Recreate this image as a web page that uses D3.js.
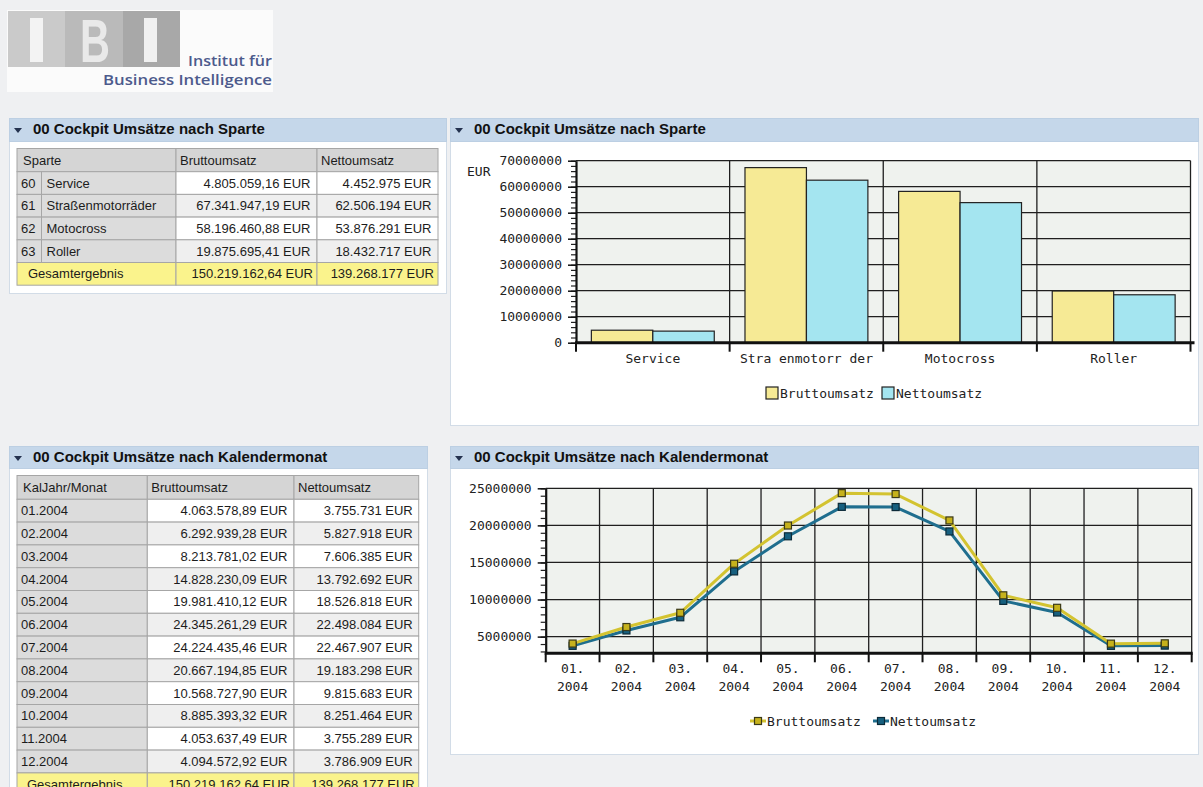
<!DOCTYPE html>
<html><head><meta charset="utf-8">
<script src="https://cdn.jsdelivr.net/npm/d3@7"></script>
<style>
body{margin:0;background:#eff0f2;}
svg{display:block;}
.tbl text{font-family:"Liberation Sans",Arial,sans-serif;font-size:13px;fill:#1c1c1c;}
.chart text{font-family:"DejaVu Sans Mono",monospace;font-size:13px;fill:#222;}
</style>
</head><body>
<svg id="c" width="1203" height="787"></svg>
<script>
// ---------------- DATA ----------------
const spartenCodes = ["60", "61", "62", "63"];
const spartenNames = ["Service", "Straßenmotorräder", "Motocross", "Roller"];
const spartenChartLabels = ["Service", "Stra enmotorr der", "Motocross", "Roller"];
const spartenBrutto = [4805059.16, 67341947.19, 58196460.88, 19875695.41];
const spartenNetto = [4452975, 62506194, 53876291, 18432717];
const totalBrutto = 150219162.64;
const totalNetto = 139268177;

const months = ["01.2004", "02.2004", "03.2004", "04.2004", "05.2004", "06.2004",
                "07.2004", "08.2004", "09.2004", "10.2004", "11.2004", "12.2004"];
const monthBrutto = [4063578.89, 6292939.28, 8213781.02, 14828230.09, 19981410.12, 24345261.29,
                     24224435.46, 20667194.85, 10568727.90, 8885393.32, 4053637.49, 4094572.92];
const monthNetto = [3755731, 5827918, 7606385, 13792692, 18526818, 22498084,
                    22467907, 19183298, 9815683, 8251464, 3755289, 3786909];

const seriesNames = ["Bruttoumsatz", "Nettoumsatz"];
const barTicks = [0, 10000000, 20000000, 30000000, 40000000, 50000000, 60000000, 70000000];
const lineTicks = [5000000, 10000000, 15000000, 20000000, 25000000];
const panelTitles = ["00 Cockpit Umsätze nach Sparte", "00 Cockpit Umsätze nach Kalendermonat"];

// ---------------- SETUP ----------------
const svg = d3.select("#c");
svg.append("rect").attr("width", 1203).attr("height", 787).attr("fill", "#eff0f2");

const loc = d3.formatLocale({decimal: ",", thousands: ".", grouping: [3], currency: ["", ""]});
const f2 = v => loc.format(",.2f")(v) + " EUR";
const f0 = v => loc.format(",.0f")(v) + " EUR";

// ---------------- LOGO ----------------
const logo = svg.append("g");
logo.append("rect").attr("x", 7).attr("y", 10).attr("width", 266).attr("height", 82).attr("fill", "#fbfbfb");
[[8, 65, "#cacaca"], [65, 123, "#bababa"], [123, 180, "#a8a8a8"]].forEach(s => {
  logo.append("rect").attr("x", s[0]).attr("y", 11).attr("width", s[1] - s[0]).attr("height", 56).attr("fill", s[2]);
});
logo.append("rect").attr("x", 30).attr("y", 18).attr("width", 13).attr("height", 44).attr("fill", "#f3f3f3");
logo.append("rect").attr("x", 144).attr("y", 18).attr("width", 13).attr("height", 44).attr("fill", "#f0f0f0");
logo.append("text").attr("x", 80).attr("y", 62).attr("textLength", 30).attr("lengthAdjust", "spacingAndGlyphs")
  .attr("font-family", "Liberation Sans, Arial").attr("font-weight", "bold").attr("font-size", 61)
  .attr("fill", "#e9e9e9").text("B");
logo.append("text").attr("x", 188).attr("y", 66).attr("textLength", 84).attr("lengthAdjust", "spacingAndGlyphs")
  .attr("font-family", "Open Sans, sans-serif").attr("font-weight", 600).attr("font-size", 15)
  .attr("fill", "#4d5a8c").text("Institut für");
logo.append("text").attr("x", 103).attr("y", 85).attr("textLength", 169).attr("lengthAdjust", "spacingAndGlyphs")
  .attr("font-family", "Open Sans, sans-serif").attr("font-weight", 600).attr("font-size", 15)
  .attr("fill", "#4d5a8c").text("Business Intelligence");

// ---------------- PANELS ----------------
function panel(x, y, w, h, hh, title) {
  const g = svg.append("g");
  g.append("rect").attr("x", x + 0.5).attr("y", y + 0.5).attr("width", w).attr("height", h)
    .attr("fill", "#ffffff").attr("stroke", "#d2dce7");
  g.append("rect").attr("x", x + 0.5).attr("y", y + 0.5).attr("width", w).attr("height", hh)
    .attr("fill", "#c5d7ea").attr("stroke", "#bccfe3");
  g.append("path").attr("d", `M${x + 5},${y + 10} L${x + 13},${y + 10} L${x + 9},${y + 15} Z`).attr("fill", "#24324f");
  g.append("text").attr("x", x + 24).attr("y", y + 16).attr("font-family", "Liberation Sans, Arial, sans-serif")
    .attr("font-weight", "bold").attr("font-size", 15).attr("fill", "#111").text(title);
  return g;
}
panel(9, 118, 437, 175, 23, panelTitles[0]);
panel(450, 118, 748, 307, 23, panelTitles[0]);
panel(9, 446, 418, 360, 22, panelTitles[1]);
panel(450, 446, 748, 308, 22, panelTitles[1]);

// ---------------- TABLES ----------------
const C_HEAD = "#d5d5d5", C_KEY = "#dcdcdc", C_W = "#ffffff", C_ALT = "#efefef", C_TOT = "#faf38c";
function drawRow(g, colX, y, h, cells) {
  cells.forEach(c => {
    const x0 = colX[c.c0], x1 = colX[c.c1];
    g.append("rect").attr("x", x0).attr("y", y).attr("width", x1 - x0).attr("height", h)
      .attr("fill", c.fill).attr("stroke", "#a6a6a6").attr("stroke-width", 1);
    g.append("text")
      .attr("x", c.end ? x1 - (c.pad || 6) : x0 + (c.pad || 4))
      .attr("y", y + h / 2 + 4.5)
      .attr("text-anchor", c.end ? "end" : "start").text(c.text);
  });
}

// Table 1
(function () {
  const g = svg.append("g").attr("class", "tbl");
  const colX = [17, 41.5, 176, 317, 438];
  drawRow(g, colX, 148.5, 23.2, [
    {c0: 0, c1: 2, text: "Sparte", pad: 6, fill: C_HEAD},
    {c0: 2, c1: 3, text: seriesNames[0], pad: 4, fill: C_HEAD},
    {c0: 3, c1: 4, text: seriesNames[1], pad: 4, fill: C_HEAD}]);
  spartenCodes.forEach((code, i) => {
    const fill = i % 2 ? C_ALT : C_W;
    drawRow(g, colX, 171.7 + i * 22.7, 22.7, [
      {c0: 0, c1: 1, text: code, pad: 4, fill: C_KEY},
      {c0: 1, c1: 2, text: spartenNames[i], pad: 5, fill: C_KEY},
      {c0: 2, c1: 3, text: f2(spartenBrutto[i]), end: true, pad: 6.5, fill: fill},
      {c0: 3, c1: 4, text: f0(spartenNetto[i]), end: true, pad: 6.5, fill: fill}]);
  });
  drawRow(g, colX, 171.7 + 4 * 22.7, 22.7, [
    {c0: 0, c1: 2, text: "Gesamtergebnis", pad: 11, fill: C_TOT},
    {c0: 2, c1: 3, text: f2(totalBrutto), end: true, pad: 4, fill: C_TOT},
    {c0: 3, c1: 4, text: f0(totalNetto), end: true, pad: 4, fill: C_TOT}]);
})();

// Table 2
(function () {
  const g = svg.append("g").attr("class", "tbl");
  const colX = [17, 147.3, 294, 418.7];
  drawRow(g, colX, 475.5, 23.8, [
    {c0: 0, c1: 1, text: "KalJahr/Monat", pad: 6, fill: C_HEAD},
    {c0: 1, c1: 2, text: seriesNames[0], pad: 4, fill: C_HEAD},
    {c0: 2, c1: 3, text: seriesNames[1], pad: 4, fill: C_HEAD}]);
  months.forEach((m, i) => {
    const fill = i % 2 ? C_ALT : C_W;
    drawRow(g, colX, 499.3 + i * 22.8, 22.8, [
      {c0: 0, c1: 1, text: m, pad: 4, fill: C_KEY},
      {c0: 1, c1: 2, text: f2(monthBrutto[i]), end: true, pad: 6.5, fill: fill},
      {c0: 2, c1: 3, text: f0(monthNetto[i]), end: true, pad: 6, fill: fill}]);
  });
  drawRow(g, colX, 499.3 + 12 * 22.8, 22.8, [
    {c0: 0, c1: 1, text: "Gesamtergebnis", pad: 10, fill: C_TOT},
    {c0: 1, c1: 2, text: f2(totalBrutto), end: true, pad: 4, fill: C_TOT},
    {c0: 2, c1: 3, text: f0(totalNetto), end: true, pad: 4, fill: C_TOT}]);
})();

// ---------------- BAR CHART ----------------
(function () {
  const g = svg.append("g").attr("class", "chart");
  const L = 576, R = 1190.5, T = 160.7, B = 342.7;
  const x = d3.scaleBand().domain(spartenChartLabels).range([L, R]).padding(0);
  const y = d3.scaleLinear().domain([0, 70000000]).range([B, T]);
  const bw = x.bandwidth();
  g.append("rect").attr("x", L).attr("y", T).attr("width", R - L).attr("height", B - T).attr("fill", "#eff2ee");
  g.selectAll(".hg").data(barTicks.filter(d => d > 0)).join("line")
    .attr("x1", L).attr("x2", R).attr("y1", d => y(d)).attr("y2", d => y(d))
    .attr("stroke", "#1f1f1f").attr("stroke-width", 1.3);
  const bounds = spartenChartLabels.map(d => x(d)).concat([R]);
  g.selectAll(".vg").data(bounds.slice(1)).join("line")
    .attr("x1", d => d).attr("x2", d => d).attr("y1", T).attr("y2", B)
    .attr("stroke", "#1f1f1f").attr("stroke-width", 1.3);
  const series = [spartenBrutto, spartenNetto];
  const fills = ["#f6ea95", "#a4e5f0"];
  series.forEach((vals, s) => {
    g.selectAll(".b" + s).data(vals).join("rect")
      .attr("x", (d, i) => x(spartenChartLabels[i]) + bw * 0.1 + s * bw * 0.4)
      .attr("width", bw * 0.4)
      .attr("y", d => y(d)).attr("height", d => B - y(d))
      .attr("fill", fills[s]).attr("stroke", "#222").attr("stroke-width", 1.2);
  });
  const minor = d3.range(0, 70000001, 2000000);
  g.append("g").attr("transform", `translate(${L},0)`)
    .call(d3.axisLeft(y).tickValues(minor).tickSize(5).tickSizeOuter(0).tickFormat(""))
    .call(a => a.select(".domain").remove())
    .call(a => a.selectAll("line").attr("stroke", "#222").attr("stroke-width", 1.2));
  g.append("g").attr("transform", `translate(${L},0)`)
    .call(d3.axisLeft(y).tickValues(barTicks).tickSize(8).tickSizeOuter(0).tickPadding(6).tickFormat(d3.format("d")))
    .call(a => a.select(".domain").attr("stroke", "#111").attr("stroke-width", 2.2))
    .call(a => a.selectAll("line").attr("stroke", "#111").attr("stroke-width", 1.5))
    .call(a => a.selectAll("text").attr("font-family", "DejaVu Sans Mono, monospace").attr("font-size", 13).attr("fill", "#222"));
  g.append("line").attr("x1", L - 1).attr("x2", R + 4).attr("y1", B).attr("y2", B).attr("stroke", "#111").attr("stroke-width", 3);
  g.selectAll(".xt").data(bounds).join("line")
    .attr("x1", d => d).attr("x2", d => d).attr("y1", B).attr("y2", B + 9)
    .attr("stroke", "#111").attr("stroke-width", 2);
  g.append("g").attr("transform", `translate(0,${B})`)
    .call(d3.axisBottom(x).tickSize(0).tickPadding(11))
    .call(a => a.select(".domain").remove())
    .call(a => a.selectAll("text").attr("font-family", "DejaVu Sans Mono, monospace").attr("font-size", 13).attr("fill", "#222"));
  g.append("text").attr("x", 467).attr("y", 176).text("EUR");
  const lg = [[766, 780], [882, 896]];
  seriesNames.forEach((n, s) => {
    g.append("rect").attr("x", lg[s][0]).attr("y", 387).attr("width", 12).attr("height", 12)
      .attr("fill", fills[s]).attr("stroke", "#222").attr("stroke-width", 1.2);
    g.append("text").attr("x", lg[s][1]).attr("y", 397.5).text(n);
  });
})();

// ---------------- LINE CHART ----------------
(function () {
  const g = svg.append("g").attr("class", "chart");
  const L = 545.7, R = 1191.7, T = 488.3, B = 653.3;
  const x = d3.scaleBand().domain(months).range([L, R]).padding(0);
  const y = d3.scaleLinear().domain([2750000, 25000000]).range([B, T]);
  const bw = x.bandwidth();
  g.append("rect").attr("x", L).attr("y", T).attr("width", R - L).attr("height", B - T).attr("fill", "#eff2ee");
  g.selectAll(".hg").data(lineTicks).join("line")
    .attr("x1", L).attr("x2", R).attr("y1", d => y(d)).attr("y2", d => y(d))
    .attr("stroke", "#1f1f1f").attr("stroke-width", 1.3);
  const bounds = months.map(d => x(d)).concat([R]);
  g.selectAll(".vg").data(bounds.slice(1)).join("line")
    .attr("x1", d => d).attr("x2", d => d).attr("y1", T).attr("y2", B)
    .attr("stroke", "#1f1f1f").attr("stroke-width", 1.3);
  const minor = d3.range(3000000, 25000001, 1000000);
  g.append("g").attr("transform", `translate(${L},0)`)
    .call(d3.axisLeft(y).tickValues(minor).tickSize(5).tickSizeOuter(0).tickFormat(""))
    .call(a => a.select(".domain").remove())
    .call(a => a.selectAll("line").attr("stroke", "#222").attr("stroke-width", 1.2));
  g.append("g").attr("transform", `translate(${L},0)`)
    .call(d3.axisLeft(y).tickValues(lineTicks).tickSize(8).tickSizeOuter(0).tickPadding(6).tickFormat(d3.format("d")))
    .call(a => a.select(".domain").attr("stroke", "#111").attr("stroke-width", 2.2))
    .call(a => a.selectAll("line").attr("stroke", "#111").attr("stroke-width", 1.5))
    .call(a => a.selectAll("text").attr("font-family", "DejaVu Sans Mono, monospace").attr("font-size", 13).attr("fill", "#222"));
  g.append("line").attr("x1", L - 1).attr("x2", R + 1).attr("y1", B).attr("y2", B).attr("stroke", "#111").attr("stroke-width", 3);
  g.selectAll(".xt").data(bounds).join("line")
    .attr("x1", d => d).attr("x2", d => d).attr("y1", B).attr("y2", B + 9)
    .attr("stroke", "#111").attr("stroke-width", 2);
  const xl = g.append("g").attr("transform", `translate(0,${B})`)
    .call(d3.axisBottom(x).tickSize(0).tickFormat(() => ""));
  xl.select(".domain").remove();
  xl.selectAll(".tick").each(function (d) {
    const t = d3.select(this).select("text").attr("y", 0).attr("dy", null)
      .attr("font-family", "DejaVu Sans Mono, monospace").attr("font-size", 13).attr("fill", "#222");
    const parts = d.split(".");
    t.append("tspan").attr("x", 0).attr("y", 20).text(parts[0] + ".");
    t.append("tspan").attr("x", 0).attr("y", 38).text(parts[1]);
  });
  const cx = (d, i) => x(months[i]) + bw / 2;
  const lineCol = ["#d3c330", "#1f6e8e"];
  const markFill = ["#c6b21c", "#17607f"];
  const markStroke = ["#3b3a18", "#0c2a38"];
  const data = [monthBrutto, monthNetto];
  const line = d3.line().x(cx).y(d => y(d));
  [1, 0].forEach(s => {
    g.append("path").attr("d", line(data[s])).attr("fill", "none")
      .attr("stroke", lineCol[s]).attr("stroke-width", 3).attr("stroke-linejoin", "round");
  });
  [1, 0].forEach(s => {
    g.selectAll(".m" + s).data(data[s]).join("rect")
      .attr("x", (d, i) => cx(d, i) - 3.5).attr("y", d => y(d) - 3.5)
      .attr("width", 7).attr("height", 7)
      .attr("fill", markFill[s]).attr("stroke", markStroke[s]).attr("stroke-width", 1.2);
  });
  const lg = [[750, 767], [873, 890]];
  seriesNames.forEach((n, s) => {
    g.append("line").attr("x1", lg[s][0]).attr("x2", lg[s][0] + 16).attr("y1", 721).attr("y2", 721)
      .attr("stroke", lineCol[s]).attr("stroke-width", 3);
    g.append("rect").attr("x", lg[s][0] + 4.5).attr("y", 717.5).attr("width", 7).attr("height", 7)
      .attr("fill", markFill[s]).attr("stroke", markStroke[s]).attr("stroke-width", 1.2);
    g.append("text").attr("x", lg[s][1]).attr("y", 725.5).text(n);
  });
})();
</script>
</body></html>
